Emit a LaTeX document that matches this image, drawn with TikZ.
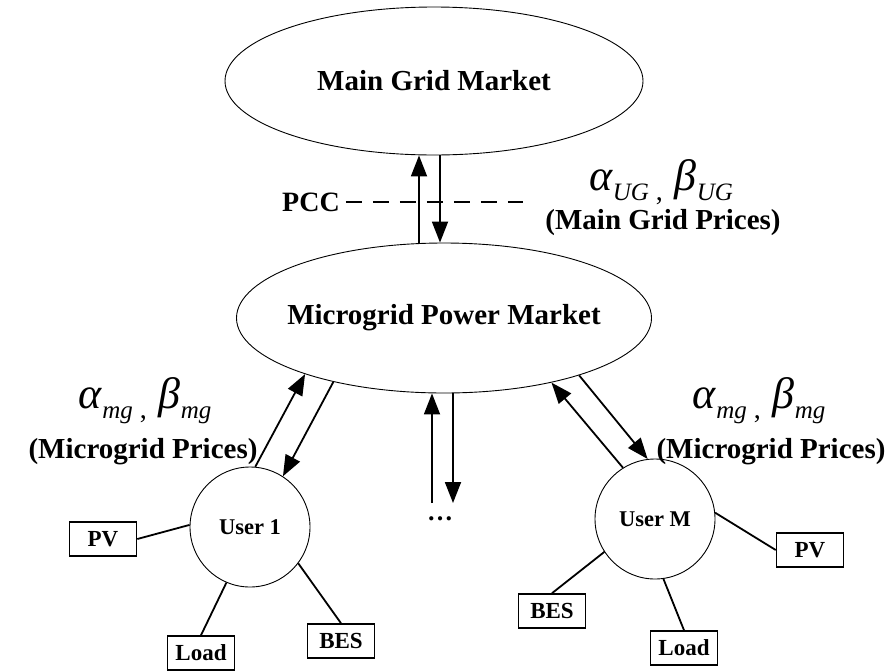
\documentclass[tikz,border=0pt]{standalone}
\usepackage{fontspec}
\setmainfont{Liberation Serif}
\usetikzlibrary{arrows.meta,shapes.geometric}

\tikzset{
	market/.style={draw, ellipse, line width=0.9pt, minimum width=418pt, minimum height=148pt, inner sep=0pt, font=\fontsize{29}{31}\selectfont\bfseries},
	user/.style={draw, circle, line width=0.9pt, minimum size=120pt, inner sep=0pt, font=\fontsize{22.5}{24}\selectfont\bfseries},
	device/.style={draw, rectangle, line width=1.6pt, minimum width=67pt, minimum height=34pt, inner sep=0pt, font=\fontsize{23}{25}\selectfont\bfseries},
	flow/.style={line width=1.8pt, -{Triangle[length=21pt,width=16pt]}},
	link/.style={line width=1.8pt},
	pccline/.style={line width=1.8pt, dash pattern=on 16pt off 11pt},
	prices/.style={inner sep=0pt, anchor=base, font=\fontsize{29}{31}\selectfont\bfseries},
	greek/.style={inner sep=0pt, anchor=base}
}
\newcommand{\pricesym}[2]{\textit{\fontsize{44}{44}\selectfont #1}\raisebox{-10pt}{\textit{\fontsize{25}{25}\selectfont #2}}}
\newcommand{\pricepair}[1]{\pricesym{α}{#1}\hspace{7pt}\raisebox{-10pt}{\fontsize{28}{28}\selectfont ,}\hspace{12pt}\pricesym{β}{#1}}

\begin{document}
\begin{tikzpicture}[x=1pt,y=-1pt]
	\useasboundingbox (0,0) rectangle (894,670);

	% markets
	\node[market] (main) at (434,81) {\makebox[0pt]{Main Grid Market}};
	\node[market, minimum width=415pt, minimum height=150pt] (micro) at (444,318) {\makebox[0pt]{Microgrid Power Market}};

	% point of common coupling
	\node[inner sep=0pt, font=\fontsize{28}{30}\selectfont\bfseries] (pcc) at (311,202) {PCC};
	\coordinate (pccend) at (523,202);
	\draw[pccline] ([xshift=6pt]pcc.east) -- (pccend);
	\coordinate (pccup) at (419,0);
	\coordinate (pccdn) at (440,0);
	\draw[flow] (pccup |- micro.north) -- (pccup |- main.south);
	\draw[flow] (pccdn |- main.south) -- (pccdn |- micro.north);
	\node[greek] (ugsym) at (661,190) {\pricepair{UG}};
	\node[prices] (ugtxt) at (663,229) {(Main Grid Prices)};

	% users
	\node[user] (u1) at (250,527) {User 1};
	\node[user] (uM) at (655,519) {User M};
	\draw[flow] (u1.85) -- (micro.202.6);
	\draw[flow] (micro.210) -- (u1.57);
	\draw[flow] (uM.122) -- (micro.329);
	\draw[flow] (micro.337) -- (uM.97);

	% other users
	\coordinate (midup) at (432,503);
	\coordinate (middn) at (453,503);
	\draw[flow] (midup) -- (midup |- micro.south);
	\draw[flow] (middn |- micro.south) -- (middn);
	\node[inner sep=0pt, font=\fontsize{26}{26}\selectfont\bfseries] (dots) at (440,519) {…};

	\node[greek] (mgsym1) at (145,408) {\pricepair{mg}};
	\node[prices] (mgtxt1) at (143,458) {(Microgrid Prices)};
	\node[greek] (mgsymM) at (759,408) {\pricepair{mg}};
	\node[prices] (mgtxtM) at (771,458) {(Microgrid Prices)};

	% devices of user 1
	\node[device] (pv1) at (103,539) {PV};
	\node[device] (load1) at (201,653) {Load};
	\node[device] (bes1) at (341,641) {BES};
	\draw[link] (pv1.east) -- (u1.178);
	\draw[link] (load1.north) -- (u1.247);
	\draw[link] (bes1.north) -- (u1.-37);

	% devices of user M
	\node[device] (pvM) at (810,550) {PV};
	\node[device] (loadM) at (684,648) {Load};
	\node[device] (besM) at (552,611) {BES};
	\draw[link] (pvM.west) -- (uM.6);
	\draw[link] (loadM.north) -- (uM.278);
	\draw[link] (besM.north) -- (uM.213);
\end{tikzpicture}
\end{document}
